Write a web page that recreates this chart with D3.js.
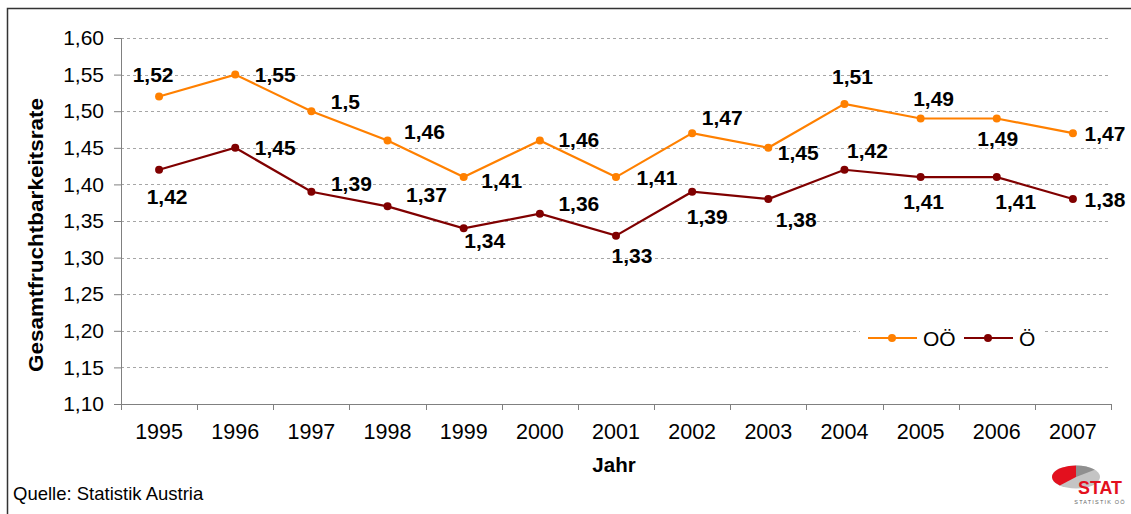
<!DOCTYPE html>
<html>
<head>
<meta charset="utf-8">
<script src="https://cdn.jsdelivr.net/npm/d3@7"></script>
<style>
  body { margin: 0; background: #fff; }
  svg { display: block; font-family: Arial, "Liberation Sans", sans-serif; }
</style>
</head>
<body>
<svg id="chart" width="1131" height="514"></svg>
<script>
// data
var years = ["1995","1996","1997","1998","1999","2000","2001","2002","2003","2004","2005","2006","2007"];
var ooValues = [1.52,1.55,1.5,1.46,1.41,1.46,1.41,1.47,1.45,1.51,1.49,1.49,1.47];
var oValues  = [1.42,1.45,1.39,1.37,1.34,1.36,1.33,1.39,1.38,1.42,1.41,1.41,1.38];
var yTicks = [1.10,1.15,1.20,1.25,1.30,1.35,1.40,1.45,1.50,1.55,1.60];
var seriesNames = ["OÖ","Ö"];

// where each value label sits relative to its point (dx, dy)
var ooLabelOff = [[-6,-22],[40,0],[34,-10],[37,-9],[38,3],[39,-1],[41,0],[30,-16],[30,5],[8,-27],[13,-20],[1,20],[32,0]];
var oLabelOff  = [[8,27],[40,0],[40,-8],[39,-12],[21,12],[39,-10],[16,20],[15,25],[28,20],[23,-19],[3,24],[19,24],[32,0]];

var colors = ["#ff8000","#800000"];

var svg = d3.select("#chart");
var margins = {top: 38, left: 121, right: 20, bottom: 110};
var w = 1111 - margins.left;
var h = 404 - margins.top;

// frame
svg.append("rect")
  .attr("x", 7.5).attr("y", 8.5)
  .attr("width", 1140).attr("height", 520)
  .attr("fill", "none").attr("stroke", "#333").attr("stroke-width", 1.5);

var g = svg.append("g").attr("transform", "translate(" + margins.left + "," + margins.top + ")");

var xScale = d3.scaleBand().domain(years).range([0, w]);
var yScale = d3.scaleLinear().domain([1.10, 1.60]).range([h, 0]);

var fmt = function(v) { return String(v).replace(".", ","); };

// grid
g.selectAll(".grid").data(yTicks.slice(1)).enter().append("line")
  .attr("x1", 0).attr("x2", w)
  .attr("y1", function(d) { return Math.round(yScale(d)) + 0.5; })
  .attr("y2", function(d) { return Math.round(yScale(d)) + 0.5; })
  .attr("stroke", "#a6a6a6").attr("stroke-width", 1).attr("stroke-dasharray", "3,3");

// y axis
var yAxis = d3.axisLeft(yScale).tickValues(yTicks).tickSize(7).tickPadding(10)
  .tickFormat(function(d) { return d3.format(".2f")(d).replace(".", ","); });
var ya = g.append("g").call(yAxis);
ya.select(".domain").attr("stroke", "#808080");
ya.selectAll(".tick line").attr("stroke", "#808080");
ya.selectAll("text").attr("font-size", 21).attr("fill", "#000")
  .attr("font-family", "Arial, 'Liberation Sans', sans-serif");

// x axis
var xa = g.append("g").attr("transform", "translate(0," + h + ")")
  .call(d3.axisBottom(xScale).tickSize(0).tickPadding(20));
xa.select(".domain").attr("stroke", "#808080");
xa.selectAll("text").attr("font-size", 21.5).attr("fill", "#000")
  .attr("font-family", "Arial, 'Liberation Sans', sans-serif");
xa.selectAll(".sep").data(d3.range(years.length + 1)).enter().append("line")
  .attr("x1", function(i) { return Math.round(i * xScale.step()) + 0.5; })
  .attr("x2", function(i) { return Math.round(i * xScale.step()) + 0.5; })
  .attr("y1", 0).attr("y2", 6)
  .attr("stroke", "#808080");

// axis titles
svg.append("text")
  .attr("transform", "translate(43,235) rotate(-90)")
  .attr("text-anchor", "middle")
  .attr("font-size", 20).attr("font-weight", "bold")
  .attr("textLength", 274).attr("lengthAdjust", "spacingAndGlyphs")
  .text("Gesamtfruchtbarkeitsrate");

svg.append("text")
  .attr("x", 614).attr("y", 472)
  .attr("text-anchor", "middle")
  .attr("font-size", 20.5).attr("font-weight", "bold")
  .text("Jahr");

svg.append("text")
  .attr("x", 13).attr("y", 500)
  .attr("font-size", 18.5)
  .text("Quelle: Statistik Austria");

// series
var allSeries = [ooValues, oValues];
var allOffsets = [ooLabelOff, oLabelOff];

var line = d3.line()
  .x(function(d, i) { return xScale(years[i]) + xScale.bandwidth() / 2; })
  .y(function(d) { return yScale(d); });

allSeries.forEach(function(vals, s) {
  g.append("path")
    .datum(vals)
    .attr("d", line)
    .attr("fill", "none")
    .attr("stroke", colors[s])
    .attr("stroke-width", 2.2);

  g.selectAll(".pt" + s).data(vals).enter().append("circle")
    .attr("cx", function(d, i) { return xScale(years[i]) + xScale.bandwidth() / 2; })
    .attr("cy", function(d) { return yScale(d); })
    .attr("r", 4)
    .attr("fill", colors[s]);

  g.selectAll(".lbl" + s).data(vals).enter().append("text")
    .attr("x", function(d, i) { return xScale(years[i]) + xScale.bandwidth() / 2 + allOffsets[s][i][0]; })
    .attr("y", function(d, i) { return yScale(d) + allOffsets[s][i][1]; })
    .attr("dy", "0.36em")
    .attr("text-anchor", "middle")
    .attr("font-size", 21).attr("font-weight", "bold")
    .text(function(d) { return fmt(d); });
});

// legend
var leg = svg.append("g").attr("transform", "translate(860,322)");
leg.append("rect").attr("width", 183).attr("height", 32).attr("fill", "#fff");
var legX = [8, 104];
seriesNames.forEach(function(name, s) {
  var lx = legX[s];
  leg.append("line")
    .attr("x1", lx).attr("x2", lx + 49)
    .attr("y1", 16).attr("y2", 16)
    .attr("stroke", colors[s]).attr("stroke-width", 2.2);
  leg.append("circle").attr("cx", lx + 24).attr("cy", 16).attr("r", 4).attr("fill", colors[s]);
  leg.append("text")
    .attr("x", lx + 55).attr("y", 16).attr("dy", "0.36em")
    .attr("font-size", 21)
    .text(name);
});

// logo
var logo = svg.append("g").attr("transform", "translate(1076,477)");
var arc = d3.arc().innerRadius(0).outerRadius(1);
logo.append("ellipse").attr("rx", 24).attr("ry", 11.5).attr("fill", "#c4c4c4");
logo.append("path")
  .attr("transform", "scale(24,11.5)")
  .attr("d", arc({startAngle: 0, endAngle: 0.9}))
  .attr("fill", "#8f8f8f");
logo.append("path")
  .attr("transform", "scale(24,11.5)")
  .attr("d", arc({startAngle: -2.4, endAngle: 0}))
  .attr("fill", "#e3101e");
logo.append("text")
  .attr("x", 24).attr("y", 17)
  .attr("text-anchor", "middle")
  .attr("font-size", 19).attr("font-weight", "bold").attr("fill", "#e3101e")
  .attr("textLength", 44).attr("lengthAdjust", "spacingAndGlyphs")
  .text("STAT");
logo.append("text")
  .attr("x", 24).attr("y", 27)
  .attr("text-anchor", "middle")
  .attr("font-size", 5.5).attr("fill", "#666").attr("letter-spacing", 1.2)
  .text("STATISTIK OÖ");
</script>
</body>
</html>
